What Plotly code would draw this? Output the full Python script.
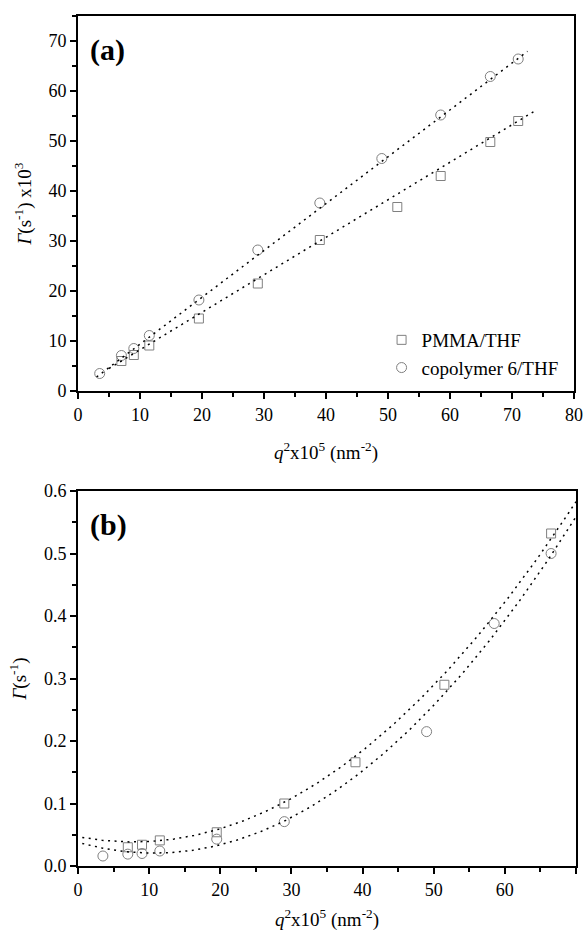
import numpy as np
import plotly.graph_objects as go

# ---------------- data ----------------
# panel (a): decay rate Gamma (s^-1) x10^3 vs q^2 x10^5 (nm^-2)
a_x_pmma = [7, 9, 11.5, 19.5, 29, 39, 51.5, 58.5, 66.5, 71]
a_y_pmma = [6.0, 7.2, 9.1, 14.5, 21.5, 30.2, 36.8, 43.0, 49.8, 54.0]
a_x_copo = [3.5, 7, 9, 11.5, 19.5, 29, 39, 49, 58.5, 66.5, 71]
a_y_copo = [3.5, 7.1, 8.5, 11.1, 18.2, 28.2, 37.6, 46.5, 55.2, 62.9, 66.4]

# panel (b): Gamma (s^-1) vs q^2 x10^5 (nm^-2)
b_x_pmma = [7, 9, 11.5, 19.5, 29, 39, 51.5, 66.5]
b_y_pmma = [0.030, 0.034, 0.041, 0.054, 0.100, 0.166, 0.290, 0.532]
b_x_copo = [3.5, 7, 9, 11.5, 19.5, 29, 49, 58.5, 66.5]
b_y_copo = [0.016, 0.019, 0.020, 0.024, 0.043, 0.071, 0.215, 0.388, 0.500]

# fit parameters (polynomial coefficients, highest power first) and fit ranges
a_fit_pmma = [0.75, 0.75]
a_fit_pmma_range = [5, 74]
a_fit_copo = [0.937, 0.0]
a_fit_copo_range = [3, 72.5]
b_fit_pmma = [1.405e-4, -0.002178, 0.047]
b_fit_pmma_range = [0.6, 70]
b_fit_copo = [1.529e-4, -0.003263, 0.038]
b_fit_copo_range = [0.6, 70]

series_names = ["PMMA/THF", "copolymer 6/THF"]

# ---------------- styling ----------------
FONT = "Liberation Serif, Times New Roman, DejaVu Serif, serif"
MK_COLOR = "#808080"
DOT = "2px,4.5px"


def fit_curve(coef, rng):
    xs = np.linspace(rng[0], rng[1], 200)
    return xs, np.polyval(coef, xs)


fig = go.Figure()

# panel (a) markers
fig.add_trace(go.Scatter(x=a_x_pmma, y=a_y_pmma, mode="markers", name=series_names[0],
                         marker=dict(symbol="square-open", size=9, color=MK_COLOR, line=dict(width=1)),
                         xaxis="x", yaxis="y", showlegend=True))
fig.add_trace(go.Scatter(x=a_x_copo, y=a_y_copo, mode="markers", name=series_names[1],
                         marker=dict(symbol="circle-open", size=10, color=MK_COLOR, line=dict(width=1)),
                         xaxis="x", yaxis="y", showlegend=True))
for coef, rng in [(a_fit_pmma, a_fit_pmma_range), (a_fit_copo, a_fit_copo_range)]:
    xs, ys = fit_curve(coef, rng)
    fig.add_trace(go.Scatter(x=xs, y=ys, mode="lines", showlegend=False, hoverinfo="skip",
                             line=dict(color="black", width=1.5, dash=DOT), xaxis="x", yaxis="y"))

# panel (b) markers
fig.add_trace(go.Scatter(x=b_x_pmma, y=b_y_pmma, mode="markers", name=series_names[0],
                         marker=dict(symbol="square-open", size=9, color=MK_COLOR, line=dict(width=1)),
                         xaxis="x2", yaxis="y2", showlegend=False))
fig.add_trace(go.Scatter(x=b_x_copo, y=b_y_copo, mode="markers", name=series_names[1],
                         marker=dict(symbol="circle-open", size=10, color=MK_COLOR, line=dict(width=1)),
                         xaxis="x2", yaxis="y2", showlegend=False))
for coef, rng in [(b_fit_pmma, b_fit_pmma_range), (b_fit_copo, b_fit_copo_range)]:
    xs, ys = fit_curve(coef, rng)
    fig.add_trace(go.Scatter(x=xs, y=ys, mode="lines", showlegend=False, hoverinfo="skip",
                             line=dict(color="black", width=1.5, dash=DOT), xaxis="x2", yaxis="y2"))

W, H = 584, 932
L, R = 78, 8


def ydom(top_px, bot_px):
    return [1 - bot_px / H, 1 - top_px / H]


axis_common = dict(showline=True, linecolor="black", linewidth=2, mirror=True,
                   ticks="outside", ticklen=6, tickwidth=1.5, tickcolor="black",
                   showgrid=False, zeroline=False,
                   tickfont=dict(family=FONT, size=18, color="black"),
                   automargin=False)

minor_common = dict(ticklen=4, tickwidth=1.5, tickcolor="black", ticks="outside")

xtitle = "<i>q</i><sup>2</sup>x10<sup>5</sup> (nm<sup>-2</sup>)"

fig.update_layout(
    width=W, height=H,
    margin=dict(l=L, r=R, t=0, b=0),
    paper_bgcolor="white", plot_bgcolor="white",
    font=dict(family=FONT, color="black"),
    showlegend=True,
    legend=dict(x=356 / W, y=1 - 321 / H, xanchor="left", yanchor="top",
                bgcolor="rgba(0,0,0,0)", font=dict(family=FONT, size=19, color="black"),
                itemwidth=30, tracegroupgap=0),
    xaxis=dict(axis_common, domain=[0, (574 - L) / (W - L - R)], range=[0, 80], dtick=10,
               minor=dict(minor_common, dtick=5), anchor="y",
               title=dict(text=xtitle, font=dict(family=FONT, size=19), standoff=22)),
    yaxis=dict(axis_common, domain=ydom(16, 391), range=[0, 75], dtick=10,
               minor=dict(minor_common, dtick=5), anchor="x",
               title=dict(text="<i>Γ</i>(s<sup>-1</sup>) x10<sup>3</sup>",
                          font=dict(family=FONT, size=19), standoff=12)),
    xaxis2=dict(axis_common, domain=[0, 1], range=[0, 70], dtick=10,
                minor=dict(minor_common, dtick=5), anchor="y2",
                title=dict(text=xtitle, font=dict(family=FONT, size=19), standoff=14)),
    yaxis2=dict(axis_common, domain=ydom(491, 866), range=[0, 0.6], dtick=0.1,
                tickformat=".1f", minor=dict(minor_common, dtick=0.05), anchor="x2",
                title=dict(text="<i>Γ</i>(s<sup>-1</sup>)", font=dict(family=FONT, size=19), standoff=12)),
    annotations=[
        dict(text="<b>(a)</b>", x=0.02, y=0.96, xref="x domain", yref="y domain",
             xanchor="left", yanchor="top", showarrow=False,
             font=dict(family=FONT, size=30, color="black")),
        dict(text="<b>(b)</b>", x=0.02, y=0.96, xref="x2 domain", yref="y2 domain",
             xanchor="left", yanchor="top", showarrow=False,
             font=dict(family=FONT, size=30, color="black")),
    ],
)

fig.write_html("out.html", config={"displayModeBar": False},
               post_script="document.body.style.margin='0px';")
